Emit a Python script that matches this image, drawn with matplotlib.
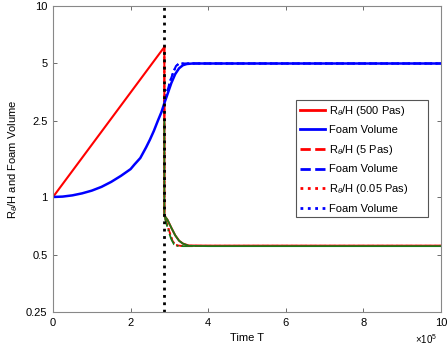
import numpy as np
import matplotlib.pyplot as plt
from matplotlib.ticker import FixedLocator, NullLocator, FixedFormatter

plt.rcParams['font.family'] = ['Liberation Sans', 'DejaVu Sans']
plt.rcParams['mathtext.fontset'] = 'custom'
plt.rcParams['mathtext.rm'] = 'Liberation Sans'
plt.rcParams['mathtext.it'] = 'Liberation Sans:italic'

# time in units of 1e5
t_rise = [0, 2.87]
rh_rise = [1.0, 6.1]

# R/H after the jump (500 Pas)
t_rh500 = [2.87, 2.87, 2.95, 3.05, 3.15, 3.25, 3.35, 3.5, 4.0, 10]
rh500 = [6.1, 0.80, 0.76, 0.69, 0.63, 0.59, 0.57, 0.557, 0.556, 0.556]
# faster variants (5 Pas / 0.05 Pas)
t_rhfast = [2.87, 2.87, 2.92, 3.0, 3.08, 3.15, 3.3, 10]
rhfast = [6.1, 0.80, 0.74, 0.66, 0.59, 0.56, 0.555, 0.555]

# green curve (below the red part of the jump)
t_green = [2.87, 2.87, 2.95, 3.05, 3.15, 3.25, 3.35, 3.5, 4.0, 10]
green = [2.5, 0.80, 0.76, 0.69, 0.63, 0.59, 0.57, 0.555, 0.553, 0.553]
t_green2 = [2.87, 2.92, 2.98, 3.05, 3.12, 3.2, 3.35, 3.6]
green2 = [0.80, 0.73, 0.66, 0.60, 0.565, 0.555, 0.553, 0.553]

# foam volume
t_foam = [0, 0.25, 0.5, 0.75, 1.0, 1.25, 1.5, 1.75, 2.0, 2.1, 2.25, 2.4, 2.5,
          2.6, 2.7, 2.8, 2.87, 2.95, 3.05, 3.15, 3.25, 3.35, 3.45, 3.6, 4.0, 10]
foam = [1.0, 1.005, 1.02, 1.045, 1.08, 1.13, 1.2, 1.29, 1.4, 1.48, 1.6, 1.82, 2.0,
        2.22, 2.5, 2.8, 3.1, 3.45, 3.95, 4.4, 4.72, 4.9, 4.97, 5.0, 5.0, 5.0]
t_foamfast = [2.87, 2.95, 3.03, 3.1, 3.17, 3.25, 3.4, 10]
foamfast = [3.15, 3.6, 4.1, 4.5, 4.85, 5.0, 5.0, 5.0]

t_line = 2.87

fig = plt.figure(figsize=(4.48, 3.51), dpi=100)
ax = fig.add_axes([53/448, 1-312/351, 388/448, 306/351])
ax.set_yscale('log')

ax.plot(t_rhfast, rhfast, color='#ff0000', ls='--', lw=1.3)
ax.plot(t_rhfast, rhfast, color='#ff0000', ls=':', lw=1.3)
ax.plot(t_foamfast, foamfast, color='#0000ff', ls='--', lw=1.5)
ax.plot(t_foamfast, foamfast, color='#0000ff', ls=':', lw=1.5)
ax.plot(t_green2, green2, color='#1a7a1a', ls='-.', lw=1.3)
ax.plot(t_rise, rh_rise, color='#ff0000', ls='-', lw=1.5)
ax.plot(t_rh500, rh500, color='#ff0000', ls='-', lw=1.5)
ax.plot(t_foam, foam, color='#0000ff', ls='-', lw=1.8)
ax.plot(t_green, green, color='#1a7a1a', ls='-', lw=1.3)
ax.axvline(t_line, color='black', ls=':', lw=2)

# legend handles
h = []
h += ax.plot([], [], color='#ff0000', ls='-', lw=2, label=r'R$_\theta$/H (500 Pas)')
h += ax.plot([], [], color='#0000ff', ls='-', lw=2, label='Foam Volume')
h += ax.plot([], [], color='#ff0000', ls='--', lw=2, label=r'R$_\theta$/H (5 Pas)')
h += ax.plot([], [], color='#0000ff', ls='--', lw=2, label='Foam Volume')
h += ax.plot([], [], color='#ff0000', ls=':', lw=2, label=r'R$_\theta$/H (0.05 Pas)')
h += ax.plot([], [], color='#0000ff', ls=':', lw=2, label='Foam Volume')
leg = ax.legend(handles=h, loc='upper left', bbox_to_anchor=(0.626, 0.0, 0.34, 0.693),
                mode='expand', fontsize=8, fancybox=False, framealpha=1,
                handlelength=2.3, labelspacing=0.68, borderpad=0.35,
                handletextpad=0.3, borderaxespad=0)
leg.get_frame().set_edgecolor('#555555')
leg.get_frame().set_linewidth(0.8)

ax.set_xlim(0, 10)
ax.set_ylim(0.25, 10)
yt = [0.25, 0.5, 1, 2.5, 5, 10]
ax.yaxis.set_major_locator(FixedLocator(yt))
ax.yaxis.set_major_formatter(FixedFormatter(['0.25', '0.5', '1', '2.5', '5', '10']))
ax.yaxis.set_minor_locator(NullLocator())
ax.set_xticks([0, 2, 4, 6, 8, 10])

for s in ax.spines.values():
    s.set_color('#888888')
    s.set_linewidth(0.8)
ax.tick_params(direction='in', top=True, right=True, labelsize=8, color='#555555',
               length=3, width=0.6, pad=4)
ax.set_xlabel('Time T', fontsize=8, labelpad=4)
ax.set_ylabel(r'R$_\theta$/H and Foam Volume', fontsize=8, labelpad=4)
fig.text(415/448, 1-344/351, r'$\times$10$^5$', fontsize=7, ha='left', va='baseline')

fig.savefig('out.png', dpi=100)
